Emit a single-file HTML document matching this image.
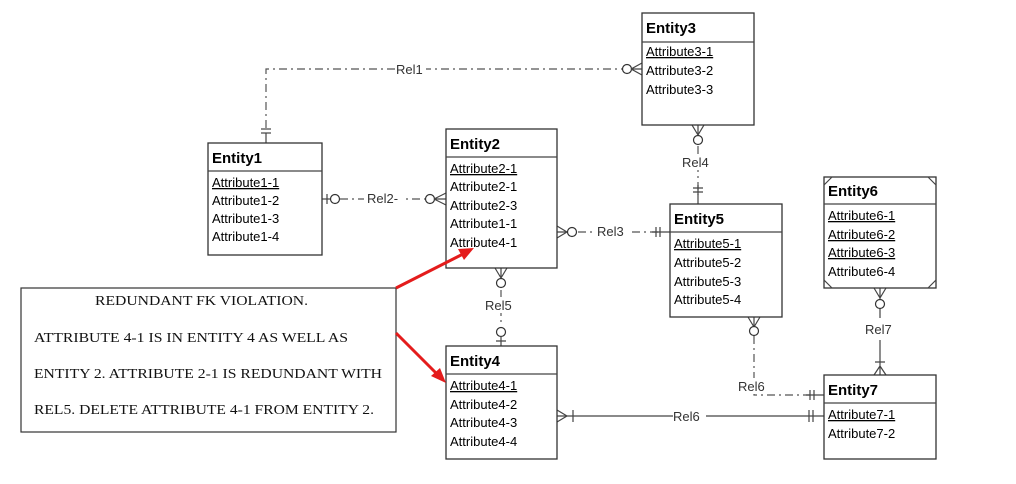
<!DOCTYPE html>
<html><head><meta charset="utf-8"><style>
html,body{margin:0;padding:0;background:#fff;}
svg{display:block}
.h{font-family:"Liberation Sans",sans-serif;font-weight:bold;font-size:15px;fill:#000}
.a{font-family:"Liberation Sans",sans-serif;font-size:13px;fill:#000}
.r{font-family:"Liberation Sans",sans-serif;font-size:13px;fill:#333}
.t{font-family:"Liberation Serif",serif;font-size:14px;fill:#111}
.b{fill:#fff;stroke:#333;stroke-width:1.3}
.l{stroke:#444;stroke-width:1.2;fill:none}
.dd{stroke:#555;stroke-width:1.2;fill:none;stroke-dasharray:8 4 2 4}
.c{fill:#fff;stroke:#333;stroke-width:1.2}
</style></head><body>
<svg width="1016" height="484" viewBox="0 0 1016 484" xmlns="http://www.w3.org/2000/svg">
<!-- Rel1 -->
<path class="dd" d="M266 128 V69 H622"/>
<line class="l" x1="261" y1="129" x2="271" y2="129"/><line class="l" x1="261" y1="133" x2="271" y2="133"/><line class="l" x1="266" y1="133" x2="266" y2="143"/>
<rect x="396" y="62" width="30" height="14" fill="#fff"/>
<text class="r" x="396" y="74">Rel1</text>
<circle class="c" cx="627" cy="69" r="4.5"/>
<path class="l" d="M631 69 L642 63 M631 69 L642 75 M631 69 H642"/>
<!-- Rel2 -->
<path class="dd" d="M340 199 H425"/>
<line class="l" x1="322" y1="199" x2="330" y2="199"/><line class="l" x1="327" y1="194" x2="327" y2="204"/>
<circle class="c" cx="335" cy="199" r="4.5"/>
<rect x="364" y="191" width="42" height="14" fill="#fff"/>
<text class="r" x="367" y="203">Rel2-</text>
<circle class="c" cx="430" cy="199" r="4.5"/>
<path class="l" d="M434 199 L446 193 M434 199 L446 205 M434 199 H446"/>
<!-- Rel3 -->
<path class="dd" d="M578 232 H660"/>
<path class="l" d="M557 226 L567 232 L557 238 M557 232 H568"/>
<circle class="c" cx="572" cy="232" r="4.5"/>
<rect x="594" y="224" width="38" height="14" fill="#fff"/>
<text class="r" x="597" y="236">Rel3</text>
<path class="l" d="M652 232 H670 M656 227 V237 M660 227 V237"/>
<!-- Rel4 -->
<path class="dd" d="M698 146 V195"/>
<path class="l" d="M692 125 L698 135 L704 125 M698 125 V136"/>
<circle class="c" cx="698" cy="140" r="4.5"/>
<rect x="680" y="154" width="36" height="16" fill="#fff"/>
<text class="r" x="682" y="167">Rel4</text>
<path class="l" d="M693 188 H703 M693 192 H703 M698 185 V204"/>
<!-- Rel5 -->
<path class="dd" d="M501 290 V325"/>
<path class="l" d="M495 268 L501 278 L507 268 M501 268 V279"/>
<circle class="c" cx="501" cy="283" r="4.5"/>
<rect x="483" y="297" width="36" height="16" fill="#fff"/>
<text class="r" x="485" y="310">Rel5</text>
<circle class="c" cx="501" cy="332" r="4.5"/>
<path class="l" d="M501 336 V346 M496 341 H506"/>
<!-- Rel6 dashed -->
<path class="dd" d="M754 336 V395 H810"/>
<path class="l" d="M748 317 L754 327 L760 317 M754 317 V328"/>
<circle class="c" cx="754" cy="331" r="4.5"/>
<rect x="735" y="378" width="40" height="16" fill="#fff"/>
<text class="r" x="738" y="391">Rel6</text>
<path class="l" d="M806 395 H824 M810 390 V400 M814 390 V400"/>
<!-- Rel6 solid -->
<line class="l" x1="557" y1="416" x2="824" y2="416"/>
<path class="l" d="M557 410 L567 416 L557 422 M573 410 V422"/>
<path class="l" d="M809 410 V422 M813 410 V422"/>
<rect x="673" y="409" width="33" height="14" fill="#fff"/>
<text class="r" x="673" y="421">Rel6</text>
<!-- Rel7 -->
<path class="l" d="M880 288 V300 M874 288 L880 298 L886 288 M880 309 V318 M880 340 V375 M875 362 H885 M874 375 L880 366 L886 375"/>
<circle class="c" cx="880" cy="304" r="4.5"/>
<text class="r" x="865" y="334">Rel7</text>

<!-- text box -->
<rect x="21" y="288" width="375" height="144" fill="#fff" stroke="#333" stroke-width="1.2"/>
<text class="t" x="95" y="305" textLength="213" lengthAdjust="spacingAndGlyphs">REDUNDANT FK VIOLATION.</text>
<text class="t" x="34" y="342" textLength="314" lengthAdjust="spacingAndGlyphs">ATTRIBUTE 4-1 IS IN ENTITY 4 AS WELL AS</text>
<text class="t" x="34" y="378" textLength="348" lengthAdjust="spacingAndGlyphs">ENTITY 2. ATTRIBUTE 2-1 IS REDUNDANT WITH</text>
<text class="t" x="34" y="414" textLength="340" lengthAdjust="spacingAndGlyphs">REL5. DELETE ATTRIBUTE 4-1 FROM ENTITY 2.</text>

<!-- Entity1 -->
<rect class="b" x="208" y="143" width="114" height="112"/><line class="l" x1="208" y1="171" x2="322" y2="171"/>
<text class="h" x="212" y="163">Entity1</text>
<text class="a" x="212" y="187" text-decoration="underline">Attribute1-1</text>
<text class="a" x="212" y="205">Attribute1-2</text>
<text class="a" x="212" y="223">Attribute1-3</text>
<text class="a" x="212" y="241">Attribute1-4</text>
<!-- Entity2 -->
<rect class="b" x="446" y="129" width="111" height="139"/><line class="l" x1="446" y1="157" x2="557" y2="157"/>
<text class="h" x="450" y="149">Entity2</text>
<text class="a" x="450" y="173" text-decoration="underline">Attribute2-1</text>
<text class="a" x="450" y="191">Attribute2-1</text>
<text class="a" x="450" y="210">Attribute2-3</text>
<text class="a" x="450" y="228">Attribute1-1</text>
<text class="a" x="450" y="247">Attribute4-1</text>
<!-- Entity3 -->
<rect class="b" x="642" y="13" width="112" height="112"/><line class="l" x1="642" y1="42" x2="754" y2="42"/>
<text class="h" x="646" y="33">Entity3</text>
<text class="a" x="646" y="56" text-decoration="underline">Attribute3-1</text>
<text class="a" x="646" y="75">Attribute3-2</text>
<text class="a" x="646" y="94">Attribute3-3</text>
<!-- Entity5 -->
<rect class="b" x="670" y="204" width="112" height="113"/><line class="l" x1="670" y1="232" x2="782" y2="232"/>
<text class="h" x="674" y="224">Entity5</text>
<text class="a" x="674" y="248" text-decoration="underline">Attribute5-1</text>
<text class="a" x="674" y="267">Attribute5-2</text>
<text class="a" x="674" y="286">Attribute5-3</text>
<text class="a" x="674" y="304">Attribute5-4</text>
<!-- Entity6 -->
<rect class="b" x="824" y="177" width="112" height="111"/><line class="l" x1="824" y1="204" x2="936" y2="204"/>
<path class="l" d="M824 185 L832 177 M928 177 L936 185 M824 280 L832 288 M928 288 L936 280"/>
<text class="h" x="828" y="196">Entity6</text>
<text class="a" x="828" y="220" text-decoration="underline">Attribute6-1</text>
<text class="a" x="828" y="239" text-decoration="underline">Attribute6-2</text>
<text class="a" x="828" y="257" text-decoration="underline">Attribute6-3</text>
<text class="a" x="828" y="276">Attribute6-4</text>
<!-- Entity4 -->
<rect class="b" x="446" y="346" width="111" height="113"/><line class="l" x1="446" y1="374" x2="557" y2="374"/>
<text class="h" x="450" y="366">Entity4</text>
<text class="a" x="450" y="390" text-decoration="underline">Attribute4-1</text>
<text class="a" x="450" y="409">Attribute4-2</text>
<text class="a" x="450" y="427">Attribute4-3</text>
<text class="a" x="450" y="446">Attribute4-4</text>
<!-- Entity7 -->
<rect class="b" x="824" y="375" width="112" height="84"/><line class="l" x1="824" y1="403" x2="936" y2="403"/>
<text class="h" x="828" y="395">Entity7</text>
<text class="a" x="828" y="419" text-decoration="underline">Attribute7-1</text>
<text class="a" x="828" y="438">Attribute7-2</text>

<!-- red arrows (on top) -->
<line x1="396" y1="288" x2="463" y2="254" stroke="#e41c1c" stroke-width="3"/>
<polygon points="474,248 458,249 464,260" fill="#e41c1c"/>
<line x1="396" y1="333" x2="437" y2="374" stroke="#e41c1c" stroke-width="3"/>
<polygon points="446,383 431,376 440,368" fill="#e41c1c"/>
</svg>
</body></html>
